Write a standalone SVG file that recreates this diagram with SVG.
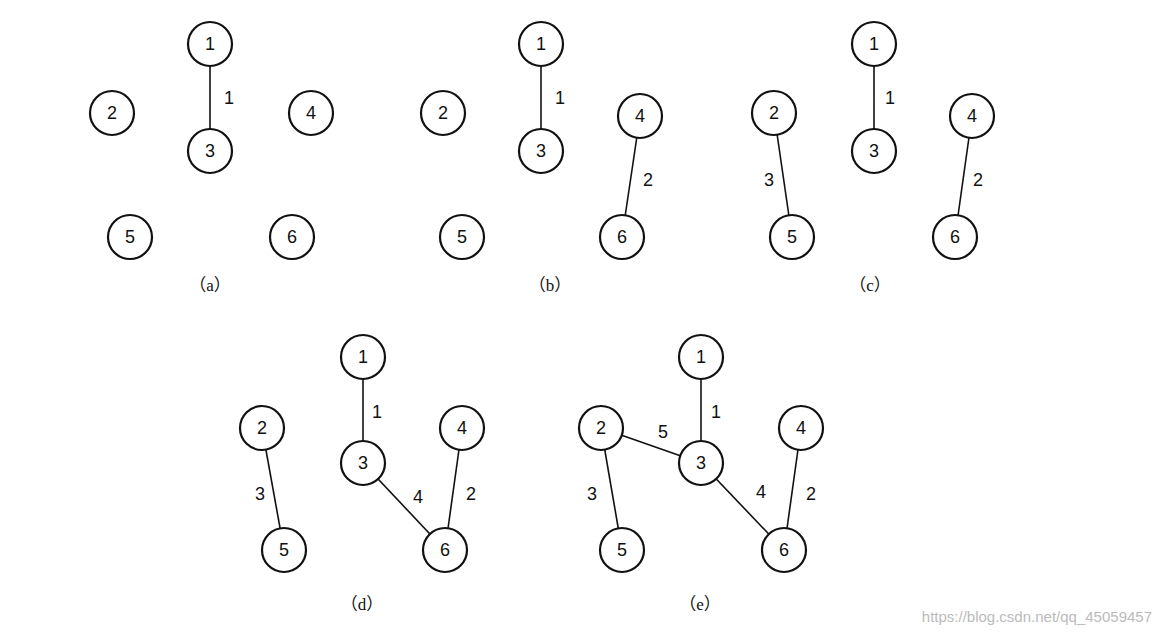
<svg xmlns="http://www.w3.org/2000/svg" width="1162" height="638" viewBox="0 0 1162 638">
<style>
.n circle{fill:#fff;stroke:#111;stroke-width:2.2}
.n text,.l{font-family:"Liberation Sans",Arial,sans-serif;font-size:18px;fill:#111;text-anchor:middle}
.e line{stroke:#111;stroke-width:1.6}
.c{font-family:"Liberation Serif","Noto Sans CJK SC",serif;font-size:17px;fill:#111;text-anchor:middle}
.w{font-family:"Liberation Sans",Arial,sans-serif;font-size:15px;fill:#bbb;text-anchor:end}
</style>
<rect width="1162" height="638" fill="#fff"/>
<defs><g id="d"/></defs>
<g id="connectors" class="e">
<line x1="210" y1="44" x2="210" y2="151"/>
<line x1="541" y1="44" x2="541" y2="151"/>
<line x1="640" y1="116" x2="622" y2="237"/>
<line x1="874" y1="44" x2="874" y2="151"/>
<line x1="774" y1="113" x2="792" y2="237"/>
<line x1="972" y1="116" x2="955" y2="237"/>
<line x1="363" y1="357" x2="363" y2="463"/>
<line x1="262" y1="428" x2="284" y2="550"/>
<line x1="363" y1="463" x2="445" y2="550"/>
<line x1="462" y1="428" x2="445" y2="550"/>
<line x1="701" y1="357" x2="701" y2="463"/>
<line x1="601" y1="428" x2="701" y2="463"/>
<line x1="601" y1="428" x2="622" y2="550"/>
<line x1="701" y1="463" x2="784" y2="550"/>
<line x1="801" y1="428" x2="784" y2="550"/>
</g>
<g id="edge-labels">
<text class="l" x="229" y="104">1</text>
<text class="l" x="560" y="104">1</text>
<text class="l" x="648" y="186">2</text>
<text class="l" x="890" y="104">1</text>
<text class="l" x="769" y="186">3</text>
<text class="l" x="978" y="186">2</text>
<text class="l" x="377" y="418">1</text>
<text class="l" x="260" y="500">3</text>
<text class="l" x="418" y="503">4</text>
<text class="l" x="471" y="500">2</text>
<text class="l" x="716" y="418">1</text>
<text class="l" x="663" y="438">5</text>
<text class="l" x="592" y="500">3</text>
<text class="l" x="761" y="498">4</text>
<text class="l" x="811" y="500">2</text>
</g>
<g id="a1" class="n"><circle cx="210" cy="44" r="22"/><text x="210" y="50">1</text></g>
<g id="a2" class="n"><circle cx="112" cy="113" r="22"/><text x="112" y="119">2</text></g>
<g id="a3" class="n"><circle cx="210" cy="151" r="22"/><text x="210" y="157">3</text></g>
<g id="a4" class="n"><circle cx="311" cy="113" r="22"/><text x="311" y="119">4</text></g>
<g id="a5" class="n"><circle cx="130" cy="237" r="22"/><text x="130" y="243">5</text></g>
<g id="a6" class="n"><circle cx="292" cy="237" r="22"/><text x="292" y="243">6</text></g>
<g id="b1" class="n"><circle cx="541" cy="44" r="22"/><text x="541" y="50">1</text></g>
<g id="b2" class="n"><circle cx="443" cy="113" r="22"/><text x="443" y="119">2</text></g>
<g id="b3" class="n"><circle cx="541" cy="151" r="22"/><text x="541" y="157">3</text></g>
<g id="b4" class="n"><circle cx="640" cy="116" r="22"/><text x="640" y="122">4</text></g>
<g id="b5" class="n"><circle cx="462" cy="237" r="22"/><text x="462" y="243">5</text></g>
<g id="b6" class="n"><circle cx="622" cy="237" r="22"/><text x="622" y="243">6</text></g>
<g id="c1" class="n"><circle cx="874" cy="44" r="22"/><text x="874" y="50">1</text></g>
<g id="c2" class="n"><circle cx="774" cy="113" r="22"/><text x="774" y="119">2</text></g>
<g id="c3" class="n"><circle cx="874" cy="151" r="22"/><text x="874" y="157">3</text></g>
<g id="c4" class="n"><circle cx="972" cy="116" r="22"/><text x="972" y="122">4</text></g>
<g id="c5" class="n"><circle cx="792" cy="237" r="22"/><text x="792" y="243">5</text></g>
<g id="c6" class="n"><circle cx="955" cy="237" r="22"/><text x="955" y="243">6</text></g>
<g id="d1" class="n"><circle cx="363" cy="357" r="22"/><text x="363" y="363">1</text></g>
<g id="d2" class="n"><circle cx="262" cy="428" r="22"/><text x="262" y="434">2</text></g>
<g id="d3" class="n"><circle cx="363" cy="463" r="22"/><text x="363" y="469">3</text></g>
<g id="d4" class="n"><circle cx="462" cy="428" r="22"/><text x="462" y="434">4</text></g>
<g id="d5" class="n"><circle cx="284" cy="550" r="22"/><text x="284" y="556">5</text></g>
<g id="d6" class="n"><circle cx="445" cy="550" r="22"/><text x="445" y="556">6</text></g>
<g id="e1" class="n"><circle cx="701" cy="357" r="22"/><text x="701" y="363">1</text></g>
<g id="e2" class="n"><circle cx="601" cy="428" r="22"/><text x="601" y="434">2</text></g>
<g id="e3" class="n"><circle cx="701" cy="463" r="22"/><text x="701" y="469">3</text></g>
<g id="e4" class="n"><circle cx="801" cy="428" r="22"/><text x="801" y="434">4</text></g>
<g id="e5" class="n"><circle cx="622" cy="550" r="22"/><text x="622" y="556">5</text></g>
<g id="e6" class="n"><circle cx="784" cy="550" r="22"/><text x="784" y="556">6</text></g>
<g id="captions">
<text class="c" x="210" y="291">（a）</text>
<text class="c" x="550" y="291">（b）</text>
<text class="c" x="870" y="291">（c）</text>
<text class="c" x="362" y="610">（d）</text>
<text class="c" x="700" y="610">（e）</text>
</g>
<text class="w" x="1152" y="622">https://blog.csdn.net/qq_45059457</text>
</svg>
